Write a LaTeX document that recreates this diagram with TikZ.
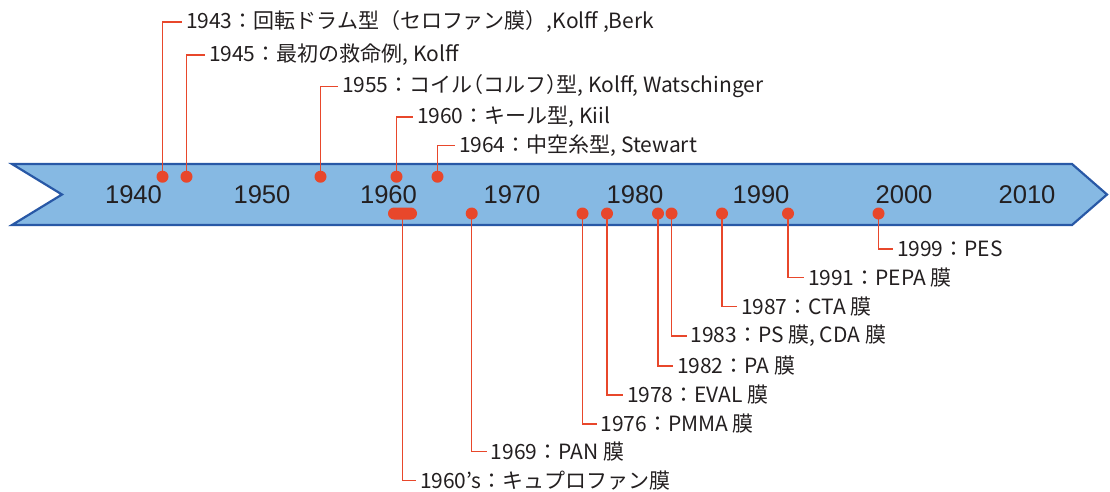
\documentclass[tikz,border=0pt]{standalone}
\usepackage{fontspec}
\setmainfont{Noto Sans CJK JP}
\newfontfamily\halffont[RawFeature=+halt]{Noto Sans CJK JP}
\newfontfamily\yearfont{Liberation Sans}
\definecolor{bandfill}{HTML}{86B9E3}
\definecolor{banddraw}{HTML}{2858A6}
\definecolor{tred}{HTML}{E8472B}
\definecolor{txt}{HTML}{231F20}
\pgfdeclarelayer{bg}
\pgfdeclarelayer{mid}
\pgfsetlayers{bg,mid,main}
\begin{document}
\begin{tikzpicture}[x=1pt,y=-1pt,
  dot/.style={circle,fill=tred,inner sep=0pt,minimum size=12pt},
  pill/.style={rectangle,rounded corners=6pt,fill=tred,inner sep=0pt,minimum width=29pt,minimum height=12pt},
  lead/.style={draw=tred,line width=1.5pt},
  lbl/.style={anchor=west,inner xsep=4pt,inner ysep=0pt,outer sep=0pt,text=txt,font=\fontsize{21}{24}\selectfont},
  yr/.style={text=txt,font=\yearfont\fontsize{25.6}{28}\selectfont,inner sep=0pt}]
\useasboundingbox (0,0) rectangle (1110,491);
\begin{pgfonlayer}{bg}
\draw[fill=bandfill,draw=banddraw,line width=2.2pt,line join=miter]
  (12,164) -- (1072,164) -- (1107,194.5) -- (1072,225) -- (12,225) -- (62,194.5) -- cycle;
\end{pgfonlayer}
% decade labels
\node[yr] (y1940) at (133.5,195) {1940};
\node[yr] (y1950) at (262,195) {1950};
\node[yr] (y1960) at (388.5,195) {1960};
\node[yr] (y1970) at (512,195) {1970};
\node[yr] (y1980) at (635,195) {1980};
\node[yr] (y1990) at (761,195) {1990};
\node[yr] (y2000) at (904,195) {2000};
\node[yr] (y2010) at (1027,195) {2010};
% dots above
\node[dot] (d43) at (162.5,176.7) {};
\node[dot] (d45) at (186.5,176.7) {};
\node[dot] (d55) at (320.5,176.7) {};
\node[dot] (d60) at (396.5,176.7) {};
\node[dot] (d64) at (437.5,176.7) {};
% dots below
\node[pill] (d60s) at (402.5,213.5) {};
\node[dot] (d69) at (471.7,213.5) {};
\node[dot] (d76) at (582.5,213.5) {};
\node[dot] (d78) at (607,213.5) {};
\node[dot] (d82) at (658,213.5) {};
\node[dot] (d83) at (671.5,213.5) {};
\node[dot] (d87) at (722,213.5) {};
\node[dot] (d91) at (788,213.5) {};
\node[dot] (d99) at (878.5,213.5) {};
% labels above
\node[lbl] (l43) at (182,22) {1943：回転ドラム型（セロファン膜）,Kolff ,Berk};
\node[lbl] (l45) at (205,55) {1945：最初の救命例, Kolff};
\node[lbl] (l55) at (338,86.5) {1955：コイル{\halffont（}コルフ{\halffont）}型, Kolff, Watschinger};
\node[lbl] (l60) at (413,117) {1960：キール型, Kiil};
\node[lbl] (l64) at (455,145.5) {1964：中空糸型, Stewart};
% labels below
\node[lbl] (l99) at (893,249) {1999：PES};
\node[lbl] (l91) at (804,277.7) {1991：PEPA 膜};
\node[lbl] (l87) at (737,306.7) {1987：CTA 膜};
\node[lbl] (l83) at (686.5,336) {1983：PS 膜, CDA 膜};
\node[lbl] (l82) at (673,366) {1982：PA 膜};
\node[lbl] (l78) at (623,395) {1978：EVAL 膜};
\node[lbl] (l76) at (596.5,424) {1976：PMMA 膜};
\node[lbl] (l69) at (486.7,451.7) {1969：PAN 膜};
\node[lbl] (l60s) at (416,480.7) {1960’s：キュプロファン膜};
\begin{pgfonlayer}{mid}
\foreach \a in {43,45,55,60,64,60s,69,76,78,82,83,87,91,99}
  \draw[lead] (d\a.center) |- (l\a.west);
\end{pgfonlayer}
\end{tikzpicture}
\end{document}
